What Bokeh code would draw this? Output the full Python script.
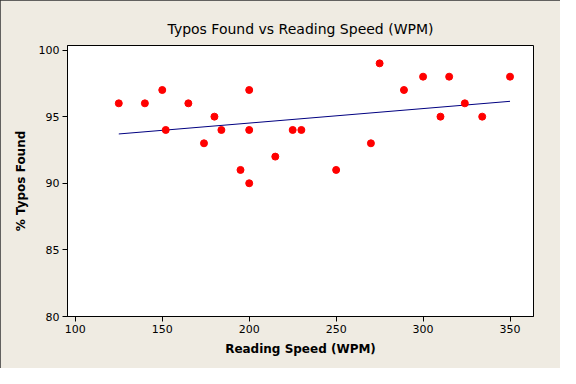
from bokeh.plotting import figure
from bokeh.models import Range1d, FixedTicker
from bokeh.embed import file_html
from bokeh.resources import INLINE

# Data
reading_speed = [125, 140, 150, 152, 165, 174, 180, 184, 195, 200, 200, 200,
                 215, 225, 230, 250, 270, 275, 289, 300, 310, 315, 324, 334, 350]
typos_found = [96, 96, 97, 94, 96, 93, 95, 94, 91, 97, 94, 90,
               92, 94, 94, 91, 93, 99, 97, 98, 95, 98, 96, 95, 98]
fit_x = [125, 350]
fit_y = [93.7, 96.15]
x_ticks = [100, 150, 200, 250, 300, 350]
y_ticks = [80, 85, 90, 95, 100]

BG = "#EFEBE2"
FONT = "DejaVu Sans"

p = figure(width=560, height=368, output_backend="svg", toolbar_location=None,
           x_range=Range1d(95.5, 363.5), y_range=Range1d(80, 100.34),
           title="Typos Found vs Reading Speed (WPM)")
p.min_border_left = 67
p.min_border_right = 27
p.min_border_top = 45
p.min_border_bottom = 52
p.background_fill_color = "white"
p.border_fill_color = BG
p.outline_line_color = "black"
p.outline_line_width = 1
p.grid.visible = False
p.styles = {"outline": "1px solid #333333", "outline-offset": "-1px"}

p.title.text_font = FONT
p.title.text_font_size = "14px"
p.title.text_font_style = "normal"
p.title.align = "center"
p.title.text_color = "black"
p.title.standoff = 17

for ax in (p.xaxis[0], p.yaxis[0]):
    ax.axis_line_color = "black"
    ax.major_tick_line_color = "black"
    ax.major_tick_out = 5
    ax.major_tick_in = 0
    ax.minor_tick_line_color = None
    ax.major_label_text_font = FONT
    ax.major_label_text_font_size = "11px"
    ax.major_label_text_color = "black"
    ax.axis_label_text_font = FONT
    ax.axis_label_text_font_size = "12px"
    ax.axis_label_text_font_style = "bold"
    ax.axis_label_text_color = "black"
    ax.major_label_standoff = 3

p.xaxis.ticker = FixedTicker(ticks=x_ticks)
p.yaxis.ticker = FixedTicker(ticks=y_ticks)
p.xaxis.axis_label = "Reading Speed (WPM)"
p.yaxis.axis_label = "% Typos Found"
p.xaxis.axis_label_standoff = 6
p.yaxis.axis_label_standoff = 8

p.line(fit_x, fit_y, line_color="#000080", line_width=1)
p.scatter(reading_speed, typos_found, size=7, fill_color="#FF0000", line_color="#FF0000")

open("out.html", "w").write(file_html(p, INLINE))
